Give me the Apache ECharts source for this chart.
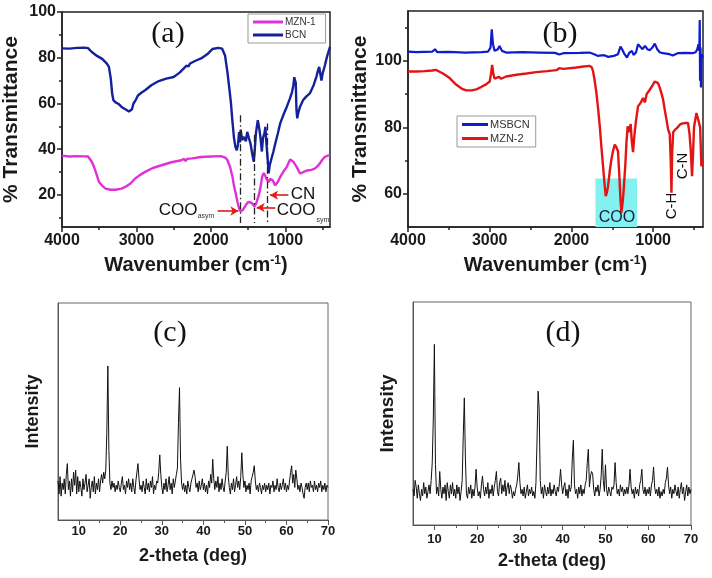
<!DOCTYPE html>
<html><head><meta charset="utf-8">
<script src="https://cdn.jsdelivr.net/npm/echarts@6/dist/echarts.min.js"></script>
<style>html,body{margin:0;padding:0;background:#fff}#c{width:712px;height:578px}</style>
</head><body><div id="c"></div>
<script>
// ---------- Panel (a) FTIR ----------
const bcnWn = [4000,3900,3800,3700,3650,3600,3530,3460,3400,3370,3345,3325,3310,3280,3240,3200,3150,3100,3080,3060,3040,3010,2980,2930,2884,2800,2700,2600,2500,2420,2360,2330,2300,2280,2200,2132,2050,1980,1900,1850,1810,1777,1750,1730,1710,1690,1670,1652,1636,1621,1610,1600,1580,1556,1530,1512,1490,1468,1445,1424,1410,1395,1370,1350,1335,1315,1300,1280,1268,1255,1246,1224,1210,1192,1160,1135,1100,1069,1020,980,940,910,892,880,870,860,850,840,825,803,760,720,671,620,580,560,545,530,515,500,470,440,400];
const bcnT  = [84.1,84.0,84.3,84.4,84.2,82.5,80.8,79.5,77.5,76,71,64,61.5,60.5,59.8,58.5,57.5,56.5,56.0,57.5,60,61.5,63.5,64.8,65.8,68,69.8,70.9,71.6,73.5,75.5,76.5,76.2,77.5,78.8,79.7,81.5,83.8,84.3,84.0,81,73.5,66,60,52,45,41,39.5,42,47.5,43,48.5,44,45.4,43.5,47.6,45,42.5,38,34.5,40,47,52.7,49,45.4,39,45,47,49.8,43,39.4,29.5,33,35.2,39,42.5,47,51.3,55.5,58.6,62,65,68,71.5,72,69,57,53.5,56,58.6,61.5,63,64.4,68,72,74.6,76,73,70,73,76.5,80.5,84.8];
const mzn1Wn = [4000,3900,3800,3700,3650,3600,3570,3530,3503,3460,3415,3350,3283,3200,3150,3080,3017,2950,2884,2780,2663,2530,2397,2360,2340,2320,2250,2132,2000,1866,1800,1777,1740,1710,1690,1666,1640,1621,1600,1590,1570,1533,1500,1476,1450,1414,1390,1356,1330,1312,1290,1270,1255,1240,1223,1205,1192,1170,1157,1135,1100,1069,1020,980,936,892,848,803,770,737,690,649,605,570,538,505,472,430,400];
const mzn1T  = [37.2,36.8,37.0,36.9,36.8,34.5,32.3,28.5,25.7,24,22.8,22.3,22.3,22.8,23.5,25,27.2,28.8,30.1,31.8,33.0,34.3,35.2,35.8,34.8,35.8,36.0,36.6,36.8,37.0,36.2,35.2,32,27.9,24,20.6,16.5,14.1,12.8,12.5,13.5,15.5,17,17.6,16.5,15.0,16.5,19.9,24,27.9,29.6,28.5,27.1,26.5,25.7,27,26.2,26.5,25.5,24.2,25.8,27.9,30.5,32.3,35.5,34.5,32.3,29.4,29.8,30.4,30.8,31.0,31.5,32.5,33.7,35.3,36.6,37.2,37.4];
const aXLabels = [1000,2000,3000,4000];
const aXMinor  = [500,1500,2500,3500];
const aYLabels = [20,40,60,80,100];
const aYMinor  = [10,30,50,70,90];
const aGuideWn = [1600,1424,1246];
const aGuideTop = [54.9,46.2,51.3];

// ---------- Panel (b) FTIR ----------
const msbcnWn = [4000,3900,3800,3700,3670,3640,3500,3300,3100,3020,2990,2975,2960,2940,2900,2880,2850,2800,2600,2400,2200,2150,2100,1900,1780,1720,1680,1600,1550,1480,1430,1400,1380,1350,1320,1290,1260,1240,1210,1185,1160,1130,1100,1070,1042,1010,980,950,920,880,800,760,700,600,520,480,460,445,435,430,426,420,415,410,405,395];
const msbcnT  = [102.8,102.6,102.7,102.8,103.5,102.6,102.7,102.5,102.6,102.8,104,109.5,105,103,103.5,104.5,103,102.5,102.6,102.5,102.4,101.9,102.3,102.4,102.5,102,101.5,101.7,101.2,101.5,102,104.3,103.5,102,101,102.5,103,101.8,102.5,105,104.3,103.5,104.5,103.5,103.2,104,105.2,103.5,102.6,102.3,102,101.6,102.3,102.4,102.3,102.6,103.5,105,103,112.3,94,104,92,100,102,101];
const mzn2Wn = [4000,3900,3800,3700,3660,3620,3572,3500,3408,3340,3285,3220,3163,3100,3040,3000,2985,2970,2955,2940,2920,2890,2860,2800,2673,2550,2429,2300,2184,2150,2100,1939,1850,1776,1750,1735,1715,1694,1673,1653,1633,1613,1595,1580,1565,1552,1530,1511,1490,1470,1450,1430,1415,1400,1388,1375,1360,1340,1327,1312,1300,1286,1275,1262,1246,1232,1210,1185,1150,1124,1100,1080,1042,1010,980,960,940,920,899,880,858,835,817,797,785,776,768,755,731,700,674,640,600,573,555,540,524,512,500,470,450,437,425,410,395];
const mzn2T  = [96.8,96.8,96.9,97.1,97.3,96.8,96.2,95,92.8,91.6,91.1,91.1,91.4,92.2,93,93.8,96,98.8,96,94.6,94.2,95.2,94.6,95.3,95.8,96.2,96.6,96.9,97.2,97.8,97.6,98.0,98.3,98.5,98,96.8,94,90.3,85.5,80.3,74,68.3,63,59.3,60.5,62.3,67,70.3,73,74.8,74,72.8,66,58.3,54.3,57,61.3,69,75.3,80.3,78.5,78,81,76,72.5,77,82,86.3,87.5,88.8,87.5,90,91.3,92.5,93.8,94.3,93.3,92,90.3,88.5,85.3,82,79.3,78,70,60.3,72,78.5,79.3,80,80.8,81.2,81.3,81.3,78,73.3,65.3,72,80,84.3,82.5,83,80,68.3,70];
const bXLabels = [1000,2000,3000,4000];
const bXMinor  = [500,1500,2500,3500];
const bYLabels = [60,80,100];
const bYMinor  = [70,90,110];
const cooBand  = [1706,1197]; // wavenumber span of highlighted COO band

// ---------- Panels (c),(d) XRD (2-theta from 5 to 70, step 0.25) ----------
const xrdStart = 5, xrdStep = 0.25;
const xrdC = [
 18,12,20,11,17,14,19,12,21,26,14,18,11,19,13,22,16,23,12,20,
 13,18,15,11,19,14,17,21,13,16,19,10,15,18,13,20,12,17,14,19,
 13,18,21,17,22,19,23,40,71,32,17,14,18,15,17,13,16,14,18,15,
 13,17,20,14,16,12,18,15,19,14,17,13,19,15,12,18,22,26,19,14,
 16,13,18,15,12,19,14,17,13,18,15,20,12,16,14,18,17,22,30,21,
 15,12,17,14,19,13,16,20,14,17,12,19,15,18,21,24,45,61,28,17,
 14,17,13,16,12,18,15,13,17,19,21,23,20,15,17,13,18,14,16,19,
 14,17,13,16,12,18,15,21,17,28,19,14,18,15,20,13,17,14,19,15,
 13,18,22,34,20,15,12,17,14,19,13,16,20,15,18,14,20,31,21,15,
 18,13,16,14,17,12,18,20,22,25,18,14,16,13,17,15,12,16,14,17,
 13,16,14,17,12,16,15,18,13,16,14,19,15,13,17,14,16,19,14,17,
 13,16,14,18,22,25,17,21,15,23,19,14,16,13,17,15,12,10,15,17,
 14,17,13,18,15,16,13,18,14,16,13,17,15,18,13,16,14,17,13,16,15];
const xrdD = [
 16,13,20,17,12,18,14,11,16,13,19,14,17,12,15,18,14,20,28,48,
 81,27,14,17,13,24,16,12,17,14,18,11,19,15,12,18,14,19,13,16,
 12,18,14,17,11,15,20,40,57,30,14,12,17,14,18,12,16,13,17,25,
 17,13,15,12,18,22,16,13,17,14,19,12,16,14,18,13,17,20,24,15,
 13,19,21,14,18,15,20,13,17,19,14,18,16,12,15,13,16,18,22,28,
 19,14,16,13,17,12,15,18,13,16,14,17,13,15,12,19,38,60,52,20,
 14,17,12,18,15,13,17,14,19,13,16,14,18,15,13,17,15,19,25,18,
 14,17,19,13,16,12,18,15,17,30,38,18,14,16,12,17,14,18,13,16,
 14,18,20,28,34,17,22,24,23,16,13,17,15,18,13,16,22,34,20,15,
 27,16,13,17,15,13,17,16,18,28,19,14,16,13,18,15,17,13,16,14,
 17,14,18,25,17,14,16,12,17,14,16,13,18,20,25,16,14,17,13,16,
 14,17,13,18,20,26,17,14,16,13,17,12,15,13,16,14,19,21,26,18,
 14,17,12,16,14,18,15,13,17,12,16,19,14,17,11,15,18,13,17,14,16];
const xrdXLabels = [10,20,30,40,50,60,70];
const xrdXMinor  = [15,25,35,45,55,65];

// ---------- build ----------
const zip = (xs, ys) => xs.map((x, i) => [x, ys[i]]);
const xrdPairs = ys => ys.map((y, i) => [xrdStart + xrdStep * i, y]);
const plain = v => String(v);

const SANS = 'Liberation Sans, Arial, sans-serif';
const SERIF = 'Liberation Serif, Times New Roman, serif';
const dark = '#1a1a1a';

function mainX(grid, min, max, inv, labels, name, opts) {
  return {
    type: 'value', gridIndex: grid, min, max, inverse: inv, position: 'bottom',
    axisLine: { show: true, onZero: false, lineStyle: { color: opts.color, width: opts.lw } },
    axisTick: { show: true, inside: false, length: opts.tick, customValues: labels, lineStyle: { color: opts.color, width: opts.lw } },
    axisLabel: { customValues: labels, formatter: plain, fontSize: opts.fs, fontWeight: 'bold', color: dark, fontFamily: SANS, margin: opts.margin },
    splitLine: { show: false },
    name, nameLocation: 'middle', nameGap: opts.nameGap,
    nameTextStyle: { fontSize: opts.nfs, fontWeight: 'bold', color: dark, fontFamily: SANS,
      rich: { sup: { fontSize: 12, fontWeight: 'bold', color: dark, fontFamily: SANS, verticalAlign: 'top', lineHeight: 14 } } }
  };
}
function minorX(grid, min, max, inv, ticks, opts) {
  return {
    type: 'value', gridIndex: grid, min, max, inverse: inv, position: 'bottom',
    axisLine: { show: false }, axisLabel: { show: false }, splitLine: { show: false },
    axisTick: { show: true, inside: false, length: opts.minor, customValues: ticks, lineStyle: { color: opts.color, width: opts.lw } }
  };
}
function mainY(grid, min, max, labels, name, opts) {
  return {
    type: 'value', gridIndex: grid, min, max, position: 'left',
    axisLine: { show: true, onZero: false, lineStyle: { color: opts.color, width: opts.lw } },
    axisTick: labels ? { show: true, inside: false, length: opts.tick, customValues: labels, lineStyle: { color: opts.color, width: opts.lw } } : { show: false },
    axisLabel: labels ? { customValues: labels, formatter: plain, fontSize: opts.fs, fontWeight: 'bold', color: dark, fontFamily: SANS, margin: 6 } : { show: false },
    splitLine: { show: false },
    name, nameLocation: 'middle', nameGap: opts.nameGap, nameRotate: 90,
    nameTextStyle: { fontSize: opts.nfs, fontWeight: 'bold', color: dark, fontFamily: SANS }
  };
}
function minorY(grid, min, max, ticks, opts) {
  return {
    type: 'value', gridIndex: grid, min, max, position: 'left',
    axisLine: { show: false }, axisLabel: { show: false }, splitLine: { show: false },
    axisTick: { show: true, inside: false, length: opts.minor, customValues: ticks, lineStyle: { color: opts.color, width: opts.lw } }
  };
}

const ftirOpt = { color: '#222', lw: 1.5, tick: 5, minor: 3, fs: 16, margin: 6, nameGap: 28, nfs: 20 };
const xrdOpt = { color: '#555', lw: 1, tick: 5, minor: 3, fs: 13, margin: 5, nameGap: 27, nfs: 18 };
const xrdOptD = Object.assign({}, xrdOpt, { margin: 8 });

const wnName = 'Wavenumber (cm{sup|-1})';

const guideStyle = { color: '#222', width: 1.3, type: [7, 3, 1.5, 3] };
const arrowStyle = { color: '#e41a1a', width: 1.6, type: 'solid' };
const guideLines = aGuideWn.map((w, i) => [
  { coord: [w, aGuideTop[i]], symbol: 'none', lineStyle: guideStyle },
  { coord: [w, 7.7], symbol: 'none' }
]);
const arrows = [
  [{ coord: [1910, 13.0], symbol: 'none', lineStyle: arrowStyle }, { coord: [1630, 13.0], symbol: 'arrow', symbolSize: [7, 8] }],
  [{ coord: [1135, 14.5], symbol: 'none', lineStyle: arrowStyle }, { coord: [1385, 14.5], symbol: 'arrow', symbolSize: [7, 8] }],
  [{ coord: [959, 19.9], symbol: 'none', lineStyle: arrowStyle }, { coord: [1205, 19.9], symbol: 'arrow', symbolSize: [7, 8] }]
];

function line(name, data, xi, yi, color, width, extra) {
  return Object.assign({
    name, type: 'line', data, xAxisIndex: xi, yAxisIndex: yi, showSymbol: false, symbol: 'none',
    lineStyle: { color, width }, itemStyle: { color }, animation: false, silent: true
  }, extra || {});
}

function txt(x, y, text, size, opts) {
  opts = opts || {};
  return { type: 'text', x, y, z: 100, zlevel: 0, rotation: opts.rot || 0,
    style: { text, fontSize: size, fontFamily: opts.font || SANS, fill: opts.fill || '#111', align: 'center', verticalAlign: 'middle' } };
}

const option = {
  animation: false,
  backgroundColor: '#fff',
  grid: [
    { left: 60, top: 12, width: 270, height: 215, show: true, borderColor: '#222', borderWidth: 1.5 },
    { left: 408, top: 11, width: 295, height: 216, show: true, borderColor: '#222', borderWidth: 1.5 },
    { left: 58, top: 303, width: 270, height: 217, show: true, borderColor: '#666', borderWidth: 1 },
    { left: 413, top: 302, width: 278, height: 223, show: true, borderColor: '#666', borderWidth: 1 }
  ],
  xAxis: [
    mainX(0, 400, 4000, true, aXLabels, wnName, ftirOpt),
    minorX(0, 400, 4000, true, aXMinor, ftirOpt),
    mainX(1, 390, 4000, true, bXLabels, wnName, ftirOpt),
    minorX(1, 390, 4000, true, bXMinor, ftirOpt),
    mainX(2, 5, 70, false, xrdXLabels, '2-theta (deg)', xrdOpt),
    minorX(2, 5, 70, false, xrdXMinor, xrdOpt),
    mainX(3, 5, 70, false, xrdXLabels, '2-theta (deg)', xrdOptD),
    minorX(3, 5, 70, false, xrdXMinor, xrdOptD)
  ],
  yAxis: [
    mainY(0, 6, 100, aYLabels, '% Transmittance', Object.assign({}, ftirOpt, { nameGap: 40, nfs: 21 })),
    minorY(0, 6, 100, aYMinor, ftirOpt),
    mainY(1, 50, 115, bYLabels, '% Transmittance', Object.assign({}, ftirOpt, { nameGap: 37, nfs: 21 })),
    minorY(1, 50, 115, bYMinor, ftirOpt),
    mainY(2, 0, 100, null, 'Intensity', Object.assign({}, xrdOpt, { nameGap: 16, nfs: 18 })),
    mainY(3, 0, 100, null, 'Intensity', Object.assign({}, xrdOpt, { nameGap: 16, nfs: 19 }))
  ],
  legend: [
    { data: ['MZN-1', 'BCN'], left: 248, top: 14, orient: 'vertical', icon: 'rect', itemWidth: 30, itemHeight: 3, itemGap: 3,
      padding: [3, 10, 3, 5], borderColor: '#999', borderWidth: 1, backgroundColor: '#fff',
      textStyle: { fontSize: 10, color: '#333', fontFamily: SANS, padding: [0, 0, 0, -3] } },
    { data: ['MSBCN', 'MZN-2'], left: 457, top: 116, orient: 'vertical', icon: 'rect', itemWidth: 26, itemHeight: 3, itemGap: 3,
      padding: [3, 6, 3, 5], borderColor: '#999', borderWidth: 1, backgroundColor: '#fff',
      textStyle: { fontSize: 11, color: '#333', fontFamily: SANS, padding: [0, 0, 0, -3] } }
  ],
  series: [
    line('BCN', zip(bcnWn, bcnT), 0, 0, '#14219a', 2.4),
    line('MZN-1', zip(mzn1Wn, mzn1T), 0, 0, '#e030d8', 2.4, {
      markLine: { silent: true, animation: false, symbol: ['none', 'none'], label: { show: false },
        emphasis: { disabled: true }, data: guideLines.concat(arrows) }
    }),
    line('MSBCN', zip(msbcnWn, msbcnT), 2, 2, '#0f1ccc', 2.2, {
      z: 2,
      markArea: { silent: true, itemStyle: { color: '#84f1f1', opacity: 1 },
        data: [[{ coord: [cooBand[0], 64.6] }, { coord: [cooBand[1], 50] }]] }
    }),
    line('MZN-2', zip(mzn2Wn, mzn2T), 2, 2, '#e51414', 2.4, { z: 4 }),
    line('XRD-c', xrdPairs(xrdC), 4, 4, '#111', 1),
    line('XRD-d', xrdPairs(xrdD), 6, 5, '#111', 1)
  ],
  graphic: { elements: [
    txt(168, 34, '(a)', 30, { font: SERIF }),
    txt(560, 34, '(b)', 30, { font: SERIF }),
    txt(170, 333, '(c)', 30, { font: SERIF }),
    txt(563, 333, '(d)', 30, { font: SERIF }),
    txt(178, 210, 'COO', 17),
    txt(206, 216, 'asym', 7, { fill: '#333' }),
    txt(296, 210, 'COO', 17),
    txt(323, 220, 'sym', 7, { fill: '#333' }),
    txt(303, 194, 'CN', 17),
    txt(617, 218, 'COO', 16, { fill: '#1a1a40' }),
    txt(672, 206, 'C-H', 15, { rot: Math.PI / 2 }),
    txt(683, 166, 'C-N', 15, { rot: Math.PI / 2 })
  ] }
};

const chart = echarts.init(document.getElementById('c'), null, { renderer: 'canvas' });
chart.setOption(option);
</script>
</body></html>
